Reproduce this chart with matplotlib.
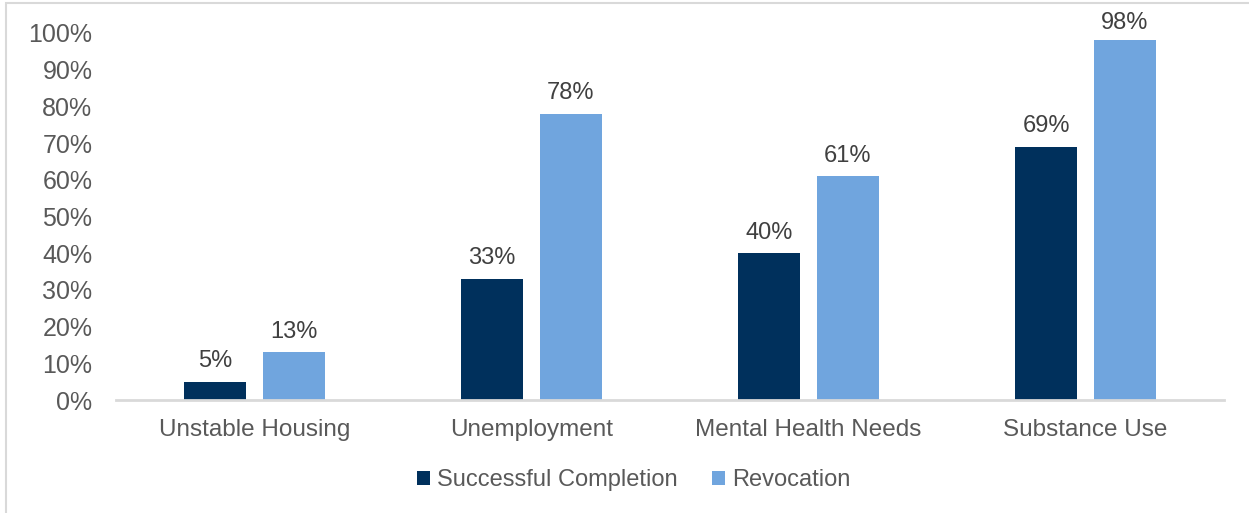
import matplotlib.pyplot as plt
import numpy as np
from matplotlib.patches import Rectangle

categories = ['Unstable Housing', 'Unemployment', 'Mental Health Needs', 'Substance Use']
completion = [5, 33, 40, 69]
revocation = [13, 78, 61, 98]
series_names = ['Successful Completion', 'Revocation']
yticks = [0, 10, 20, 30, 40, 50, 60, 70, 80, 90, 100]

plt.rcParams['font.family'] = ['Liberation Sans', 'DejaVu Sans']

dark = '#00305C'
light = '#70A5DE'
txt = '#595959'

fig = plt.figure(figsize=(12.49, 5.13), dpi=100)
ax = fig.add_axes([116 / 1249, 113 / 513, 1108 / 1249, 367 / 513])

# light frame around the chart area
fig.patches.append(Rectangle((6 / 1249, -0.1), 1.2, 1 - 3 / 513 + 0.1,
                             transform=fig.transFigure, fill=False,
                             edgecolor='#D9D9D9', linewidth=1.5))

x = np.arange(len(categories))
w = 0.224
b1 = ax.bar(x - 0.142, completion, w, color=dark, label=series_names[0])
b2 = ax.bar(x + 0.142, revocation, w, color=light, label=series_names[1])

for bars, vals in [(b1, completion), (b2, revocation)]:
    for r, v in zip(bars, vals):
        y = v + 2.6 if v < 95 else v + 1.6
        ax.text(r.get_x() + r.get_width() / 2, y, f'{v}%', ha='center', va='bottom',
                fontsize=17, color='#404040')

ax.set_xlim(-0.5, 3.5)
ax.set_ylim(0, 100)
ax.set_yticks(yticks)
ax.set_yticklabels([f'{t}%' for t in yticks])
ax.set_xticks(x)
ax.set_xticklabels(categories)
ax.tick_params(axis='both', length=0, labelsize=17.5, colors=txt)
ax.tick_params(axis='y', labelsize=18, pad=17)
ax.tick_params(axis='x', pad=14)

for s in ['top', 'right', 'left']:
    ax.spines[s].set_visible(False)
ax.spines['bottom'].set_color('#D9D9D9')
ax.spines['bottom'].set_linewidth(2)

leg = fig.legend(loc='center', bbox_to_anchor=(634 / 1249, 1 - 480 / 513), ncol=2,
                 frameon=False, fontsize=17, handlelength=0.55, handleheight=0.55,
                 handletextpad=0.3, columnspacing=1.45)
for t in leg.get_texts():
    t.set_color(txt)

fig.savefig('out.png', dpi=100)
